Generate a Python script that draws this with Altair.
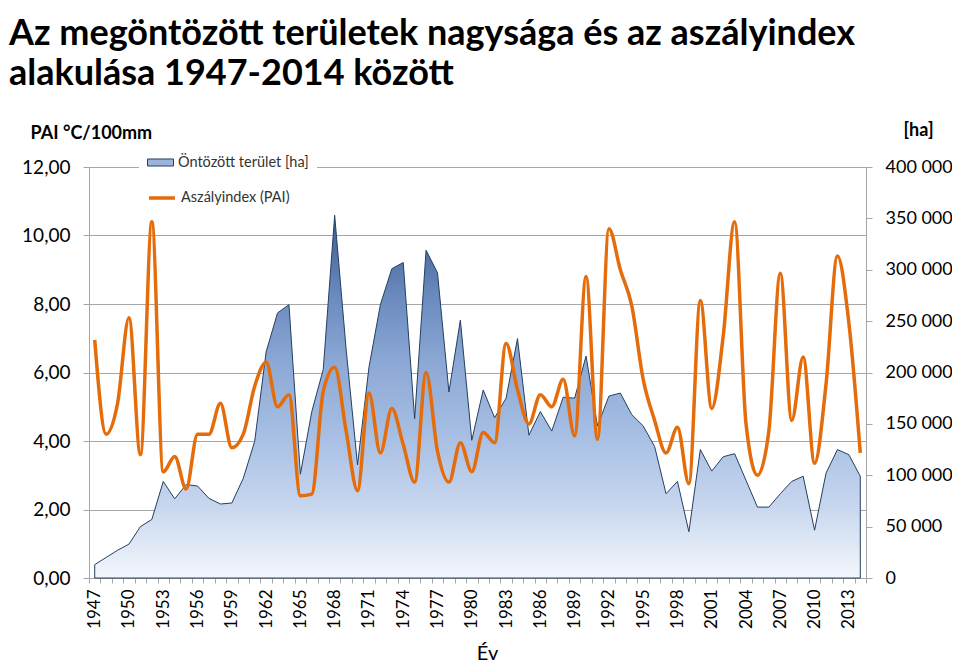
import altair as alt
import pandas as pd

# ---- data ----
years = list(range(1947, 2015))

irrigated_ha = [
    13000, 20000, 27000, 33000, 50000, 57000, 94000, 77000, 91000, 89500,
    77500, 72000, 73000, 97000, 133000, 220000, 258000, 266000, 101000, 162000,
    203000, 353000, 223000, 110000, 205000, 266000, 301000, 307000, 155000, 319000,
    297000, 181000, 251000, 134000, 183000, 156000, 175000, 233000, 139000, 162000,
    143000, 176000, 175000, 216000, 148000, 177000, 180000, 159000, 148000, 128000,
    82000, 94000, 45000, 125000, 104000, 118000, 121000, 95000, 69000, 69000,
    82000, 94000, 99000, 46500, 102000, 125000, 120000, 99000,
]

pai = [
    6.95, 4.2, 5.1, 7.6, 3.6, 10.4, 3.1, 3.55, 2.6, 4.2,
    4.2, 5.1, 3.8, 4.2, 5.6, 6.3, 5.0, 5.35, 2.4, 2.45,
    5.45, 6.15, 4.3, 2.55, 5.4, 3.65, 4.95, 3.9, 2.8, 6.0,
    3.7, 2.8, 3.95, 3.1, 4.25, 3.95, 6.85, 5.5, 4.5, 5.35,
    5.0, 5.8, 4.15, 8.8, 4.05, 10.2, 9.0, 7.95, 5.8, 4.6,
    3.65, 4.4, 2.75, 8.1, 4.95, 7.05, 10.4, 4.5, 3.0, 4.3,
    8.9, 4.6, 6.45, 3.35, 5.65, 9.4, 7.45, 3.65,
]

series_area = "Öntözött terület [ha]"
series_line = "Aszályindex (PAI)"

left_ticks = [0, 2, 4, 6, 8, 10, 12]
right_ticks = [0, 50000, 100000, 150000, 200000, 250000, 300000, 350000, 400000]

title_lines = ["Az megöntözött területek nagysága és az aszályindex",
               "alakulása 1947-2014 között"]

df = pd.DataFrame({
    "year": years,
    "ha": irrigated_ha,
    "pai": pai,
    "s_area": series_area,
    "s_line": series_line,
})

FONT = "Lato"
GRID = "#a6a6a6"

x_enc = alt.X(
    "year:O",
    bandPosition=0.5,
    scale=alt.Scale(type="band", paddingInner=0, paddingOuter=0),
    axis=alt.Axis(
        title="Év",
        titleFont=FONT, titleFontSize=20, titleFontWeight="normal", titleColor="#000000",
        titleX=398, titleY=75, titleBaseline="middle", titleAlign="center",
        labelAngle=270, labelFontSize=17, labelFont=FONT, labelColor="#000000",
        labelPadding=6, labelOverlap=False, labelFlush=False,
        labelExpr="(datum.value - 1947) % 3 == 0 ? datum.label : ''",
        tickBand="extent", tickSize=5, tickColor=GRID,
        domainColor=GRID, grid=False,
    ),
)

gradient = alt.Gradient(
    gradient="linear",
    x1=1, x2=1, y1=1, y2=0,
    stops=[
        alt.GradientStop(color="#f4f7fc", offset=0),
        alt.GradientStop(color="#c7d6ee", offset=0.2),
        alt.GradientStop(color="#a6bee3", offset=0.4),
        alt.GradientStop(color="#8ba7d4", offset=0.6),
        alt.GradientStop(color="#6686bb", offset=0.8),
        alt.GradientStop(color="#3b5a8c", offset=1),
    ],
)

area = alt.Chart(df).mark_area(
    fill=gradient, stroke="#243f60", strokeWidth=1, interpolate="linear"
).encode(
    x=x_enc,
    y=alt.Y(
        "ha:Q",
        scale=alt.Scale(domain=[0, 400000]),
        axis=alt.Axis(
            orient="right", values=right_ticks, grid=False,
            labelExpr="replace(format(datum.value, ','), ',', ' ')",
            labelFont=FONT, labelFontSize=18, labelColor="#000000", labelPadding=13,
            tickSize=6, tickColor=GRID, domainColor=GRID,
            title="[ha]", titleFont=FONT, titleFontSize=18, titleFontWeight="bold",
            titleColor="#000000", titleAngle=0, titleX=52, titleY=-37,
            titleAlign="center", titleBaseline="middle",
        ),
    ),
    color=alt.Color(
        "s_area:N",
        scale=alt.Scale(domain=[series_area], range=["#9bb4dc"]),
        legend=alt.Legend(
            title=None, orient="none", legendX=50, legendY=-26, padding=8,
            fillColor="white",
            symbolType="M-1,-0.27H1V0.27H-1Z", symbolSize=676,
            symbolStrokeColor="#243f60", symbolStrokeWidth=1,
            labelFont=FONT, labelFontSize=14.5, labelColor="#333333", labelOffset=4,
        ),
    ),
)

line = alt.Chart(df).mark_line(
    strokeWidth=3.5, interpolate="monotone"
).encode(
    x=x_enc,
    y=alt.Y(
        "pai:Q",
        scale=alt.Scale(domain=[0, 12]),
        axis=alt.Axis(
            orient="left", values=left_ticks, grid=True, gridColor=GRID, gridWidth=1,
            labelExpr="replace(format(datum.value, '.2f'), '.', ',')",
            labelFont=FONT, labelFontSize=19, labelColor="#000000", labelPadding=13,
            tickSize=6, tickColor=GRID, domainColor=GRID,
            title="PAI °C/100mm", titleFont=FONT, titleFontSize=18, titleFontWeight="bold",
            titleColor="#000000", titleAngle=0, titleX=-59, titleY=-34,
            titleAlign="left", titleBaseline="middle",
        ),
    ),
    stroke=alt.Stroke(
        "s_line:N",
        scale=alt.Scale(domain=[series_line], range=["#E46C0A"]),
        legend=alt.Legend(
            title=None, orient="none", legendX=50, legendY=8, padding=8,
            fillColor="white",
            symbolType="stroke", symbolSize=676, symbolStrokeWidth=3.5,
            labelFont=FONT, labelFontSize=14.5, labelColor="#333333", labelOffset=4,
        ),
    ),
)

chart = alt.layer(area, line).resolve_scale(
    y="independent"
).properties(
    width=777,
    height=411,
    autosize=alt.AutoSizeParams(type="none"),
    padding={"left": 81, "top": 159, "right": 86, "bottom": 85},
    title=alt.TitleParams(
        text=title_lines, anchor="start", frame="group", orient="top",
        font=FONT, fontSize=36, fontWeight="bold", color="#000000",
        lineHeight=40, baseline="bottom", dx=-80, dy=11, offset=3,
    ),
).configure_view(
    stroke=None
).configure(
    background="white"
)

chart.save("out.html", embed_options={"renderer": "svg", "actions": False})
